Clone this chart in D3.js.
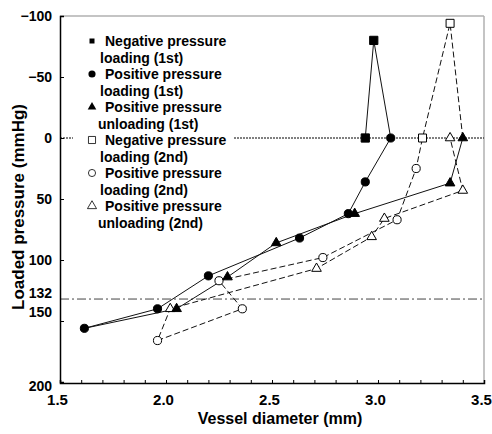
<!DOCTYPE html>
<html>
<head>
<meta charset="utf-8">
<script src="https://cdn.jsdelivr.net/npm/d3@7"></script>
<style>
  body { margin: 0; background: white; }
  text { font-family: "Liberation Sans", Arial, sans-serif; font-weight: bold; }
</style>
</head>
<body>
<div id="chart"></div>
<script>
// 1st run (solid line, filled markers)
const neg1X = [2.94, 2.98];
const neg1Y = [0, -80];
const pos1LoadX = [3.06, 2.94, 2.86, 2.63, 2.20, 1.96, 1.615];
const pos1LoadY = [0, 36, 62, 82, 113, 140, 156];
const pos1UnloadX = [2.05, 2.29, 2.52, 2.89, 3.34, 3.40];
const pos1UnloadY = [140, 114, 86, 62, 37, 0];

// 2nd run (dashed line, open markers); first point sits under the filled triangle
const neg2X = [3.40, 3.34, 3.21];
const neg2Y = [0, -94, 0];
const neg2Shown = [false, true, true];
const pos2LoadX = [3.18, 3.09, 2.74, 2.25, 2.36, 1.96];
const pos2LoadY = [25, 67, 98, 117, 140, 166];
const pos2UnloadX = [2.02, 2.71, 2.97, 3.03, 3.40, 3.34];
const pos2UnloadY = [140, 107, 81, 66, 43, 0];

const xTicks = [1.5, 2.0, 2.5, 3.0, 3.5];
const yTicks = [-100, -50, 0, 50, 100, 132, 150, 200];

const legendLines = [
  ["Negative pressure", "loading (1st)"],
  ["Positive pressure", "loading (1st)"],
  ["Positive pressure", "unloading (1st)"],
  ["Negative pressure", "loading (2nd)"],
  ["Positive pressure", "loading (2nd)"],
  ["Positive pressure", "unloading (2nd)"]
];

const width = 492, height = 434;
const mLeft = 60, mRight = 484, mTop = 16, mBottom = 383;

const svg = d3.select("#chart").append("svg")
  .attr("width", width).attr("height", height);

const x = d3.scaleLinear().domain([1.5, 3.5]).range([mLeft, mRight]);
const y = d3.scaleLinear().domain([-100, 200]).range([mTop, mBottom - 1]);

function pts(xs, ys) { return xs.map((v, i) => [v, ys[i]]); }

const run1 = [...pts(neg1X, neg1Y), ...pts(pos1LoadX, pos1LoadY), ...pts(pos1UnloadX, pos1UnloadY)];
const run2 = [...pts(neg2X, neg2Y), ...pts(pos2LoadX, pos2LoadY), ...pts(pos2UnloadX, pos2UnloadY)];

// frame
svg.append("line").attr("x1", mLeft).attr("x2", mRight).attr("y1", mTop).attr("y2", mTop)
  .attr("stroke", "#b0b0b0").attr("stroke-width", 1.5);
svg.append("line").attr("x1", mRight).attr("x2", mRight).attr("y1", mTop).attr("y2", mBottom)
  .attr("stroke", "#b0b0b0").attr("stroke-width", 1.5);

// reference lines
svg.append("line").attr("x1", mLeft).attr("x2", mRight).attr("y1", y(0)).attr("y2", y(0))
  .attr("stroke", "#000").attr("stroke-width", 1).attr("stroke-dasharray", "2,1");
svg.append("line").attr("x1", mLeft).attr("x2", mRight).attr("y1", y(132)).attr("y2", y(132))
  .attr("stroke", "#444").attr("stroke-width", 1).attr("stroke-dasharray", "9,3,2,3");

// axes
const xAxis = d3.axisBottom(x)
  .tickValues(d3.range(15, 36).map(d => d / 10))
  .tickSize(-3).tickPadding(11)
  .tickFormat(d => xTicks.some(t => Math.abs(t - d) < 1e-9) ? d3.format(".1f")(d) : "");
const gx = svg.append("g").attr("transform", `translate(0,${mBottom})`).call(xAxis);
gx.select(".domain").attr("stroke-width", 1.5);
gx.selectAll("text").attr("font-size", 15).attr("dx", -3).attr("fill", "#000");

const yAxis = d3.axisLeft(y).tickValues(yTicks).tickSize(-4).tickPadding(8);
const gy = svg.append("g").attr("transform", `translate(${mLeft},0)`).call(yAxis);
gy.select(".domain").attr("stroke-width", 1.5);
gy.selectAll(".tick").filter(d => d === 132 || d === -100 || d === 200).select("line").remove();
gy.selectAll("text").attr("font-size", 14).attr("fill", "#000")
  .attr("dy", d => d === 132 ? "-0.1em" : d === 150 ? "-0.3em" : d === 200 ? "0.6em" : "0.32em");

svg.append("text").attr("x", 280).attr("y", 424).attr("text-anchor", "middle")
  .attr("font-size", 16).text("Vessel diameter (mm)");
svg.append("text").attr("transform", "translate(24,207) rotate(-90)")
  .attr("text-anchor", "middle").attr("font-size", 17).text("Loaded pressure (mmHg)");

// series lines
const line = d3.line().x(d => x(d[0])).y(d => y(d[1]));
svg.append("path").attr("d", line(run1)).attr("fill", "none")
  .attr("stroke", "#111").attr("stroke-width", 1);
svg.append("path").attr("d", line(run2)).attr("fill", "none")
  .attr("stroke", "#111").attr("stroke-width", 1).attr("stroke-dasharray", "6,3");

// markers
function drawMarks(data, type, filled, size) {
  svg.append("g").selectAll("path").data(data).join("path")
    .attr("transform", d => `translate(${x(d[0])},${y(d[1])})`)
    .attr("d", d3.symbol().type(type).size(size))
    .attr("fill", filled ? "#000" : "#fff")
    .attr("stroke", "#000").attr("stroke-width", 1);
}
drawMarks(pts(pos2LoadX, pos2LoadY), d3.symbolCircle, false, 52);
drawMarks(pts(pos2UnloadX, pos2UnloadY), d3.symbolTriangle, false, 40);
drawMarks(pts(neg2X, neg2Y).filter((d, i) => neg2Shown[i]), d3.symbolSquare, false, 64);
drawMarks(pts(neg1X, neg1Y), d3.symbolSquare, true, 68);
drawMarks(pts(pos1LoadX, pos1LoadY), d3.symbolCircle, true, 52);
drawMarks(pts(pos1UnloadX, pos1UnloadY), d3.symbolTriangle, true, 40);

// legend
const lg = svg.append("g");
lg.append("rect").attr("x", 73).attr("y", 26).attr("width", 160).attr("height", 210).attr("fill", "#fff");
const legendSym = [
  [d3.symbolSquare, true, 25], [d3.symbolCircle, true, 40], [d3.symbolTriangle, true, 32],
  [d3.symbolSquare, false, 50], [d3.symbolCircle, false, 40], [d3.symbolTriangle, false, 36]
];
legendLines.forEach((lines, i) => {
  const cy = 41 + i * 33;
  const s = legendSym[i];
  lg.append("path").attr("transform", `translate(92,${cy})`)
    .attr("d", d3.symbol().type(s[0]).size(s[2]))
    .attr("fill", s[1] ? "#000" : "#fff").attr("stroke", "#000").attr("stroke-width", s[1] ? 0 : 0.8);
  lg.append("text").attr("x", 105).attr("y", cy + 5).attr("font-size", 14).text(lines[0]);
  lg.append("text").attr("x", lines[1].startsWith("un") ? 98 : 100).attr("y", cy + 22)
    .attr("font-size", 14).text(lines[1]);
});
</script>
</body>
</html>
